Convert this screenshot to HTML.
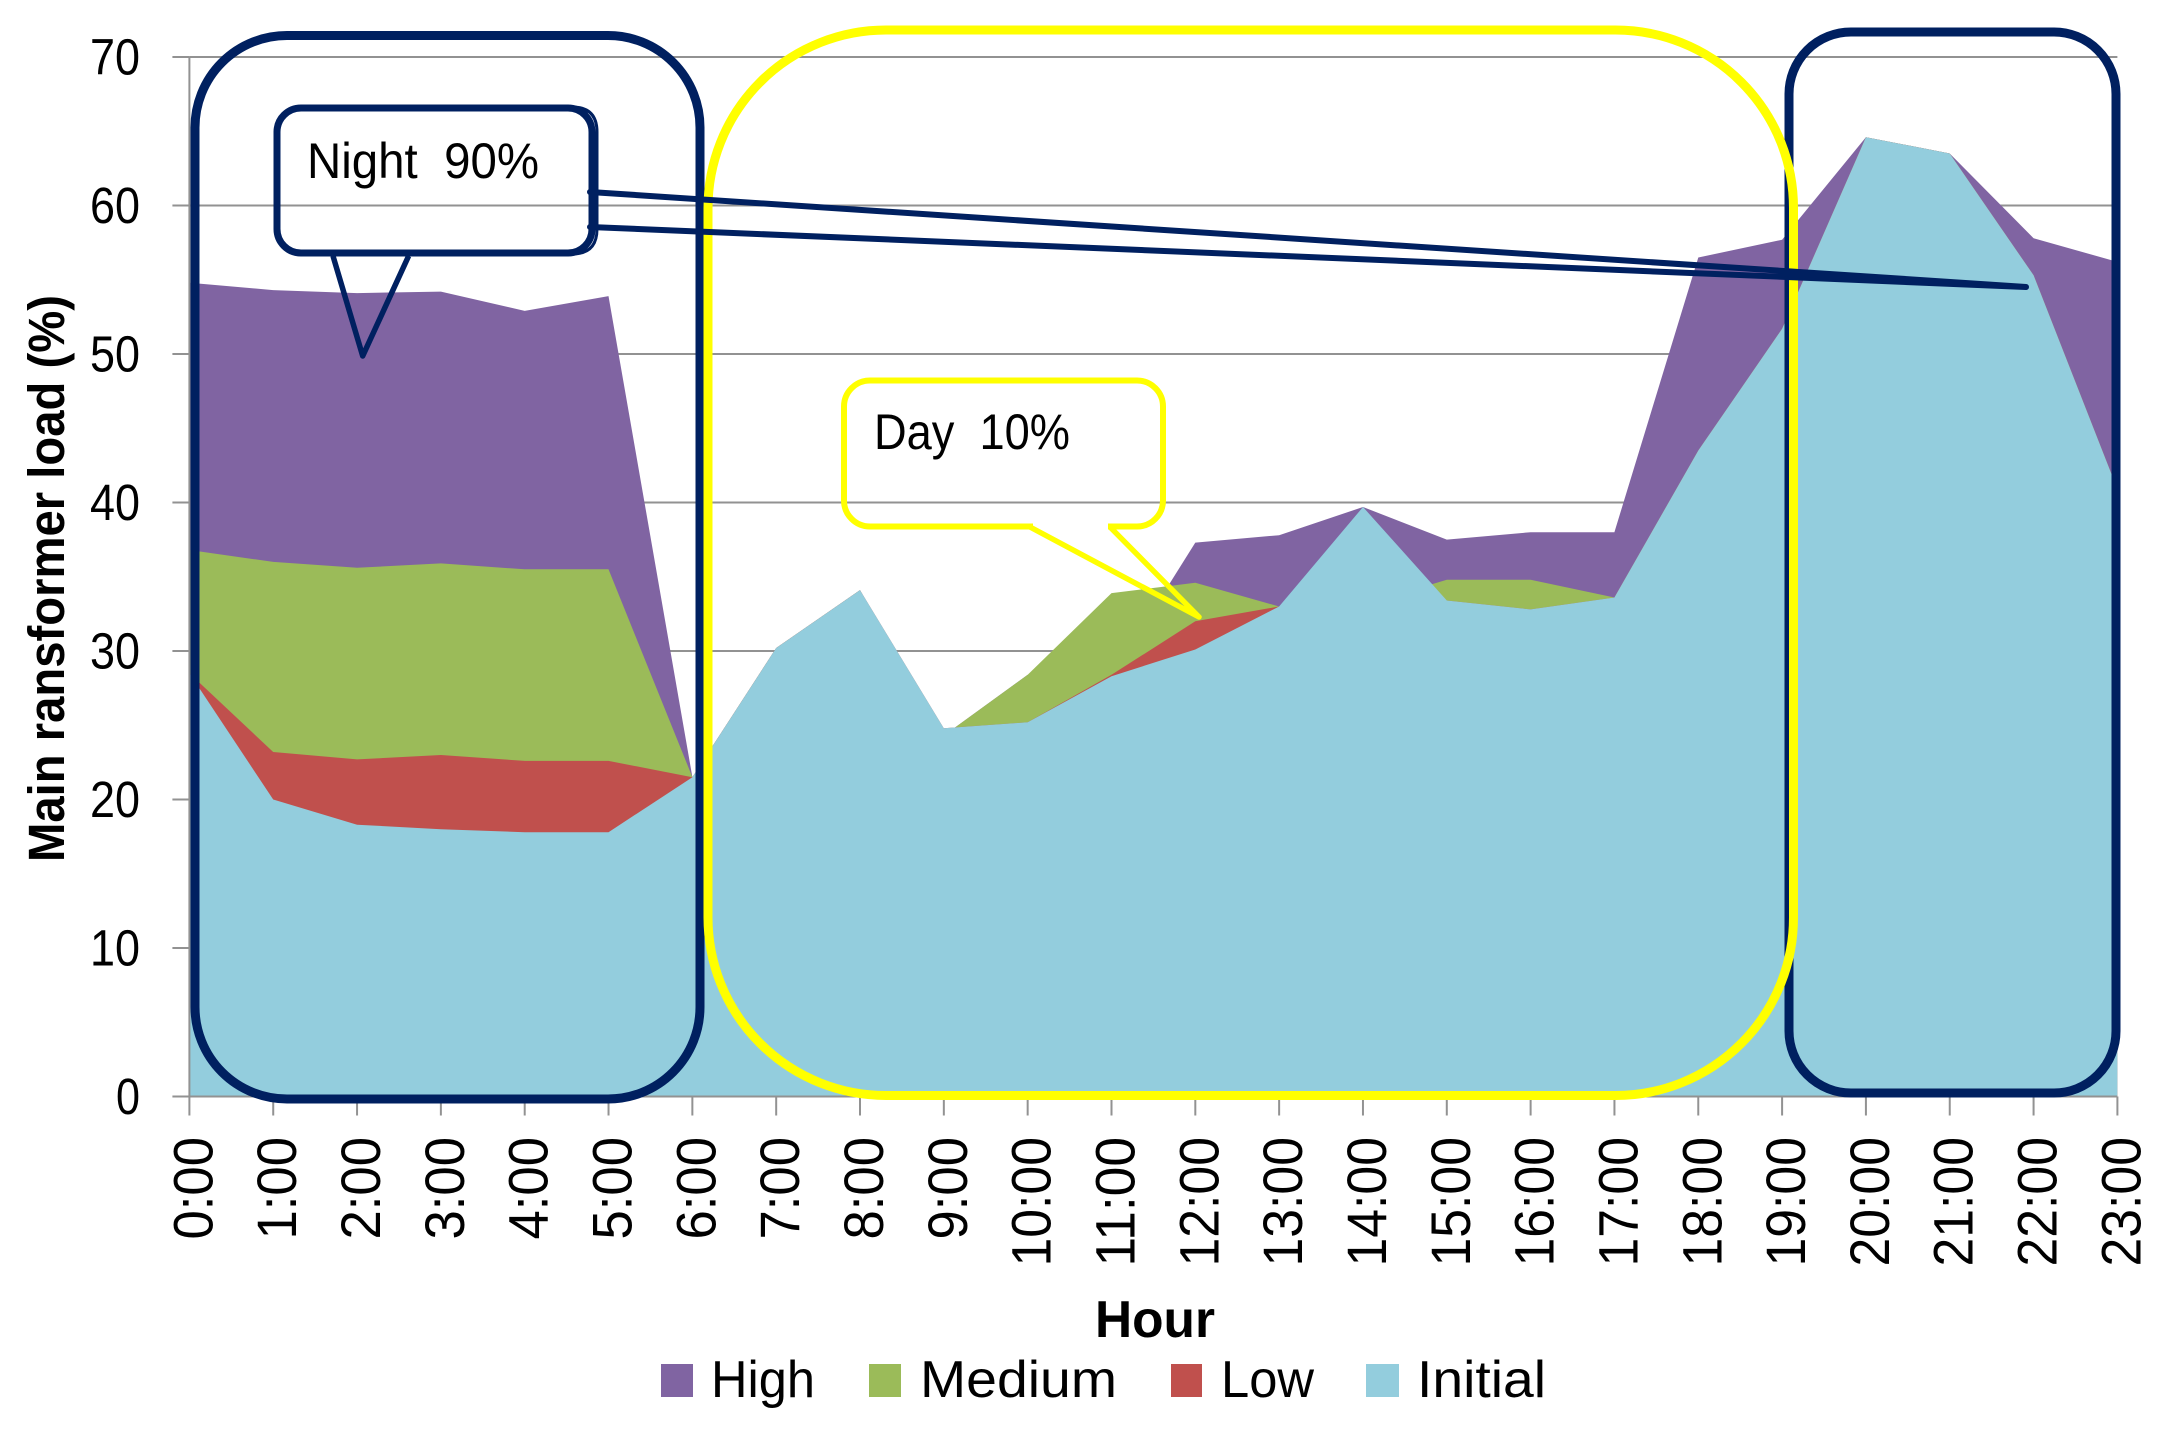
<!DOCTYPE html>
<html lang="en">
<head>
<meta charset="utf-8">
<title>Main transformer load by hour</title>
<style>
  html, body { margin: 0; padding: 0; background: #fff; }
  svg { display: block; }
  text { font-family: "Liberation Sans", sans-serif; fill: #000; white-space: pre; }
</style>
</head>
<body>
<svg id="chart" xmlns="http://www.w3.org/2000/svg" width="2165" height="1435" viewBox="0 0 2165 1435">
  <rect x="0" y="0" width="2165" height="1435" fill="#ffffff"/>
  <g id="grid"></g>
  <g id="areas"></g>
  <g id="axes"></g>

  <text transform="translate(64,862) rotate(-90)" font-size="51" font-weight="700" textLength="567" lengthAdjust="spacingAndGlyphs">Main ransformer load (%)</text>
  <text x="1095" y="1337" font-size="52" font-weight="700" textLength="120" lengthAdjust="spacingAndGlyphs">Hour</text>

  <g>
    <rect x="661" y="1364" width="32" height="33" fill="#8064A2"/>
    <text x="711" y="1397" font-size="52" textLength="104" lengthAdjust="spacingAndGlyphs">High</text>
    <rect x="869" y="1364" width="32" height="33" fill="#9BBB59"/>
    <text x="920" y="1397" font-size="52" textLength="197" lengthAdjust="spacingAndGlyphs">Medium</text>
    <rect x="1171" y="1364" width="31" height="33" fill="#C0504D"/>
    <text x="1221" y="1397" font-size="52" textLength="93" lengthAdjust="spacingAndGlyphs">Low</text>
    <rect x="1366" y="1364" width="33" height="33" fill="#93CDDD"/>
    <text x="1417" y="1397" font-size="52" textLength="129" lengthAdjust="spacingAndGlyphs">Initial</text>
  </g>

  <g fill="none">
    <rect x="195" y="35.5" width="505" height="1063.5" rx="92" ry="92" stroke="#002060" stroke-width="9"/>
    <rect x="1789" y="32" width="327" height="1061" rx="62" ry="62" stroke="#002060" stroke-width="9"/>
    <rect x="708" y="30" width="1085.5" height="1065.5" rx="178" ry="178" stroke="#FFFF00" stroke-width="9"/>

    <rect x="277" y="108" width="315" height="145" rx="24" ry="24" stroke="#002060" stroke-width="7"/>
    <path d="M 420 107 H 572 Q 597 107 597 132 V 229 Q 597 254 572 254 H 420" stroke="#002060" stroke-width="3"/>
    <path d="M 333 256 L 362.7 356 L 408.6 256" stroke="#002060" stroke-width="5.5" stroke-linejoin="round"/>
    <path d="M 590 192 L 2026 287 L 590 227" stroke="#002060" stroke-width="6" stroke-linejoin="round" stroke-linecap="round"/>
    <text x="307" y="178" font-size="50" textLength="232" lengthAdjust="spacingAndGlyphs">Night  90%</text>

    <rect x="844" y="380.5" width="319" height="146" rx="26" ry="26" stroke="#FFFF00" stroke-width="6"/>
    <path d="M 1033 526.5 H 1108" stroke="#ffffff" stroke-width="8"/>
    <path d="M 1030 527 L 1199 617 L 1110 527" stroke="#FFFF00" stroke-width="5.5" stroke-linejoin="round"/>
    <text x="874" y="449" font-size="50" textLength="196" lengthAdjust="spacingAndGlyphs">Day  10%</text>
  </g>
</svg>
<script>
const hourLabels = ["0:00","1:00","2:00","3:00","4:00","5:00","6:00","7:00","8:00","9:00","10:00","11:00","12:00","13:00","14:00","15:00","16:00","17:00","18:00","19:00","20:00","21:00","22:00","23:00"];
const yTickValues = [0, 10, 20, 30, 40, 50, 60, 70];
const highValues = [54.8,54.3,54.1,54.2,52.9,53.9,21.5,30.2,34.1,24.3,28.4,28.3,37.3,37.8,39.7,37.5,38.0,38.0,56.5,57.7,64.6,63.5,57.8,56.2];
const mediumValues = [36.8,36.0,35.6,35.9,35.5,35.5,21.5,30.2,34.1,24.3,28.4,33.9,34.6,33.0,33.1,34.8,34.8,33.6,43.5,51.7,64.6,63.5,55.3,40.9];
const lowValues = [28.5,23.2,22.7,23.0,22.6,22.6,21.5,30.2,34.1,24.8,25.2,28.4,32.0,33.0,33.0,33.4,32.8,33.6,43.5,51.7,64.6,63.5,55.3,40.9];
const initialValues = [28.5,20.0,18.3,18.0,17.8,17.8,21.5,30.2,34.1,24.8,25.2,28.3,30.1,33.0,39.7,33.4,32.8,33.6,43.5,51.7,64.6,63.5,55.3,40.9];

const SVG_NS = "http://www.w3.org/2000/svg";
const plotLeft = 189.4, plotRight = 2117.4, plotTop = 57, plotBottom = 1096.5, yMax = 70;
const gridColor = "#929292";

function xScale(i) {
  return plotLeft + i * (plotRight - plotLeft) / (hourLabels.length - 1);
}
function yScale(v) {
  return plotBottom - v * (plotBottom - plotTop) / yMax;
}
function make(tag, parent) {
  const node = document.createElementNS(SVG_NS, tag);
  parent.appendChild(node);
  return node;
}

const gridGroup = document.getElementById("grid");
const areaGroup = document.getElementById("areas");
const axisGroup = document.getElementById("axes");

yTickValues.forEach(function (v) {
  const y = yScale(v);
  if (v > 0) {
    const grid = make("line", gridGroup);
    
    
    grid.setAttribute("x1", plotLeft);
    grid.setAttribute("x2", plotRight);
    grid.setAttribute("y1", y);
    grid.setAttribute("y2", y);
    grid.setAttribute("stroke", gridColor);
    grid.setAttribute("stroke-width", "2");
  }
});

function drawArea(values, color, name) {
  const top = values.map(function (v, i) { return xScale(i).toFixed(1) + "," + yScale(v).toFixed(1); });
  const pts = [xScale(0).toFixed(1) + "," + yScale(0)].concat(top, [xScale(values.length - 1).toFixed(1) + "," + yScale(0)]);
  const poly = make("polygon", areaGroup);
  
  
  poly.setAttribute("points", pts.join(" "));
  poly.setAttribute("fill", color);
}
drawArea(highValues, "#8064A2", "area-high");
drawArea(mediumValues, "#9BBB59", "area-medium");
drawArea(lowValues, "#C0504D", "area-low");
drawArea(initialValues, "#93CDDD", "area-initial");

const yAxisLine = make("line", axisGroup);


yAxisLine.setAttribute("x1", plotLeft);
yAxisLine.setAttribute("x2", plotLeft);
yAxisLine.setAttribute("y1", plotTop);
yAxisLine.setAttribute("y2", plotBottom);
yAxisLine.setAttribute("stroke", gridColor);
yAxisLine.setAttribute("stroke-width", "2");

const xAxisLine = make("line", axisGroup);


xAxisLine.setAttribute("x1", plotLeft);
xAxisLine.setAttribute("x2", plotRight);
xAxisLine.setAttribute("y1", plotBottom);
xAxisLine.setAttribute("y2", plotBottom);
xAxisLine.setAttribute("stroke", gridColor);
xAxisLine.setAttribute("stroke-width", "2");

yTickValues.forEach(function (v) {
  const y = yScale(v);
  const tick = make("line", axisGroup);
  
  
  tick.setAttribute("x1", plotLeft - 17);
  tick.setAttribute("x2", plotLeft);
  tick.setAttribute("y1", y);
  tick.setAttribute("y2", y);
  tick.setAttribute("stroke", gridColor);
  tick.setAttribute("stroke-width", "2");

  const label = make("text", axisGroup);
  
  
  label.setAttribute("x", 140);
  label.setAttribute("y", y + 17.5);
  label.setAttribute("text-anchor", "end");
  label.setAttribute("font-size", "51");
  label.setAttribute("textLength", String(v).length === 1 ? "24" : "50");
  label.setAttribute("lengthAdjust", "spacingAndGlyphs");
  label.textContent = String(v);
});

hourLabels.forEach(function (h, i) {
  const x = xScale(i);
  const tick = make("line", axisGroup);
  
  
  tick.setAttribute("x1", x);
  tick.setAttribute("x2", x);
  tick.setAttribute("y1", plotBottom);
  tick.setAttribute("y2", plotBottom + 19);
  tick.setAttribute("stroke", gridColor);
  tick.setAttribute("stroke-width", "2");

  const label = make("text", axisGroup);
  
  
  label.setAttribute("transform", "translate(" + (x + 23) + ",1137) rotate(-90)");
  label.setAttribute("text-anchor", "end");
  label.setAttribute("font-size", "56");
  label.setAttribute("textLength", h.length === 4 ? "102.5" : "129.5");
  label.setAttribute("lengthAdjust", "spacingAndGlyphs");
  label.textContent = h;
});
</script>
</body>
</html>
